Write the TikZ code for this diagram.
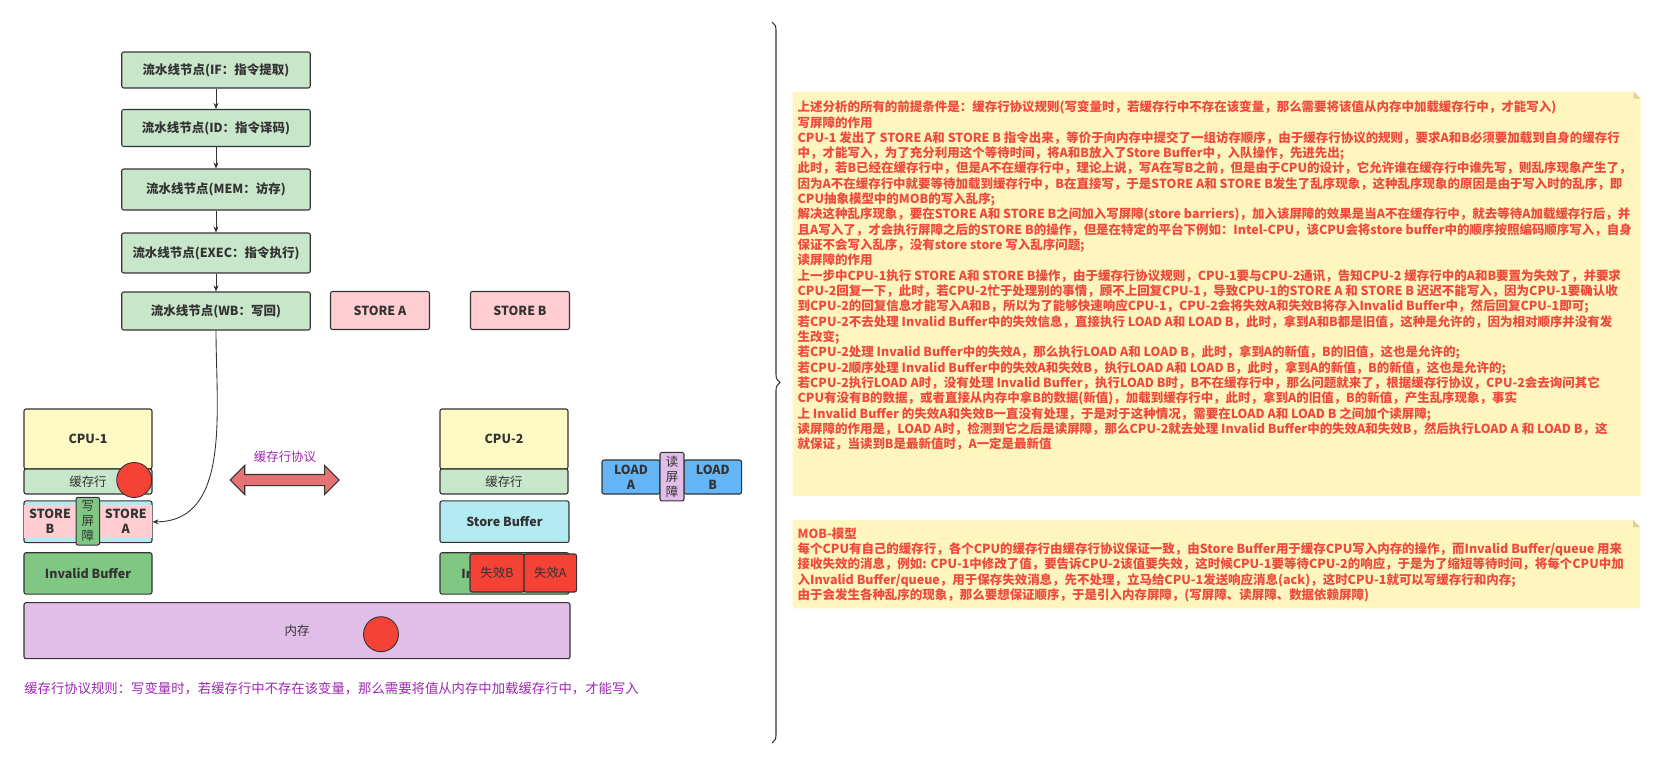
\documentclass[tikz,border=0pt]{standalone}
\usepackage{fontspec}
\setmainfont{Noto Sans CJK SC}
\usetikzlibrary{arrows.meta,shapes.arrows,decorations.pathreplacing}
\definecolor{ink}{HTML}{333333}
\definecolor{stagegreen}{HTML}{C8E6C9}
\definecolor{storepink}{HTML}{FFCDD2}
\definecolor{cpuyellow}{HTML}{FFF9C4}
\definecolor{bufcyan}{HTML}{B2EBF2}
\definecolor{invgreen}{HTML}{81C784}
\definecolor{mempurple}{HTML}{E1BEE7}
\definecolor{ballred}{HTML}{F44336}
\definecolor{syncred}{HTML}{E57373}
\definecolor{loadblue}{HTML}{64B5F6}
\definecolor{protopurple}{HTML}{9C27B0}
\definecolor{notebg}{HTML}{FFF5BF}
\definecolor{notefold}{HTML}{E2D29A}
\definecolor{notered}{HTML}{F04A3C}
\begin{document}
\begin{tikzpicture}[x=0.2mm,y=-0.2mm,
    cell/.style={rectangle,draw=ink,line width=0.6pt,rounded corners=0.4mm,text=ink,inner sep=0pt,font=\fontsize{7.1}{8.7}\selectfont},
    boldcell/.style={cell,font=\fontsize{7.1}{8.7}\selectfont\bfseries},
    stage/.style={boldcell,fill=stagegreen,minimum width=37.7mm},
    storeop/.style={boldcell,fill=storepink,minimum width=19.8mm,minimum height=7.6mm},
    cpucol/.style={cell,minimum width=25.6mm},
    barrier/.style={cell,align=center,minimum width=4.7mm},
    redball/.style={circle,draw=ink,line width=0.5pt,fill=ballred,minimum size=7mm,inner sep=0pt},
    flow/.style={draw=ink,line width=0.5pt,-{Stealth[length=1.2mm,width=1mm]}},
    notetext/.style={anchor=north west,inner sep=0pt,align=left,text=notered,font=\fontsize{7.1}{8.72}\selectfont\bfseries}]
    \useasboundingbox (0,0) rectangle (1653,757);
    \node (pipe0) at (216,70) [stage,minimum height=7.2mm] {流水线节点(IF：指令提取)};
    \node (pipe1) at (216,128) [stage,minimum height=7.4mm] {流水线节点(ID：指令译码)};
    \node (pipe2) at (216,189.5) [stage,minimum height=8.2mm] {流水线节点(MEM：访存)};
    \node (pipe3) at (216,253) [stage,minimum height=8mm] {流水线节点(EXEC：指令执行)};
    \node (pipe4) at (216,311) [stage,minimum height=7.6mm] {流水线节点(WB：写回)};
    \node (storea) at (380,310.5) [storeop] {STORE A};
    \node (storeb) at (520,310.5) [storeop] {STORE B};
    \node (cpu1) at (88,439) [cpucol,fill=cpuyellow,minimum height=12mm,font=\fontsize{7.1}{8.7}\selectfont\bfseries] {CPU-1};
    \node (cache1) at (88,481.5) [cpucol,fill=stagegreen,minimum height=5mm] {缓存行};
    \node (sbuf1) at (88,521.8) [cpucol,fill=bufcyan,minimum height=8.34mm] {};
    \node (stb) at (50,521.5) [storeop,draw=none,rounded corners=0pt,align=center,minimum width=10.2mm,minimum height=6.6mm] {STORE\\B};
    \node (sta) at (125.8,521.5) [storeop,draw=none,rounded corners=0pt,align=center,minimum width=10.3mm,minimum height=6.6mm] {STORE\\A};
    \node (wbar) at (87.8,521.2) [barrier,fill=invgreen,minimum height=9.54mm] {写\\屏\\障};
    \node (inval1) at (88,573.4) [cpucol,fill=invgreen,minimum height=8.26mm,font=\fontsize{7.1}{8.7}\selectfont\bfseries] {Invalid Buffer};
    \node (ball1) at (134.2,480) [redball] {};
    \node (proto) at (285,456.7) [text=protopurple,inner sep=0pt,font=\fontsize{7.1}{8.7}\selectfont] {缓存行协议};
    \node (sync) at (284.7,480) [double arrow,draw=ink,fill=syncred,line width=0.6pt,minimum height=21.8mm,minimum width=5.6mm,double arrow head extend=1.8mm,inner sep=0pt,inner ysep=1mm] {};
    \node (cpu2) at (504,439) [cpucol,fill=cpuyellow,minimum height=12mm,font=\fontsize{7.1}{8.7}\selectfont\bfseries] {CPU-2};
    \node (cache2) at (504,481.5) [cpucol,fill=stagegreen,minimum height=5mm] {缓存行};
    \node (sbuf2) at (504.5,521.7) [cpucol,fill=bufcyan,minimum width=25.8mm,minimum height=8.3mm,font=\fontsize{7.1}{8.7}\selectfont\bfseries] {Store Buffer};
    \node (inval2) at (504.5,573.4) [cpucol,fill=invgreen,minimum width=25.8mm,minimum height=8.26mm,font=\fontsize{7.1}{8.7}\selectfont\bfseries] {Invalid Buffer};
    \node (invb) at (497,573) [cell,fill=ballred,minimum width=10.8mm,minimum height=7.6mm] {失效B};
    \node (inva) at (550.3,573) [cell,fill=ballred,minimum width=10.5mm,minimum height=7.6mm] {失效A};
    \node (mem) at (297,630.7) [cell,fill=mempurple,minimum width=109.2mm,minimum height=11.2mm] {内存};
    \node (ball2) at (381,634.2) [redball] {};
    \node (loada) at (631,477) [boldcell,fill=loadblue,align=center,minimum width=11.6mm,minimum height=6.8mm] {LOAD\\A};
    \node (loadb) at (712.8,477) [boldcell,fill=loadblue,align=center,minimum width=11.5mm,minimum height=6.8mm] {LOAD\\B};
    \node (rbar) at (672,476.7) [barrier,fill=mempurple,minimum width=4.8mm,minimum height=9.7mm] {读\\屏\\障};
    \node (rule) at (24,688.3) [anchor=west,inner sep=0pt,text=protopurple,font=\fontsize{7.6}{9}\selectfont] {缓存行协议规则：写变量时，若缓存行中不存在该变量，那么需要将值从内存中加载缓存行中，才能写入};
    \draw [flow] (pipe0) -- (pipe1);
    \draw [flow] (pipe1) -- (pipe2);
    \draw [flow] (pipe2) -- (pipe3);
    \draw [flow] (pipe3) -- (pipe4);
    \draw [flow] (pipe4.south) to [out=-90,in=0] (sbuf1.east);
    \coordinate (bracetop) at (772,22);
    \coordinate (bracebot) at (772,743);
    \draw [ink,line width=0.6pt,decorate,decoration={brace,amplitude=1.6mm}] (bracetop) -- (bracebot);
    \fill [notebg] (792.7,91.7) -- (1633.7,91.7) -- (1640.7,98.7) -- (1640.7,496) -- (792.7,496) -- cycle;
    \fill [notefold] (1633.7,91.7) -- (1633.7,98.7) -- (1640.7,98.7) -- cycle;
    \fill [notebg] (792.7,520) -- (1633,520) -- (1640,527) -- (1640,608.3) -- (792.7,608.3) -- cycle;
    \fill [notefold] (1633,520) -- (1633,527) -- (1640,527) -- cycle;
    \node (notes) at (797.3,100.5) [notetext] {上述分析的所有的前提条件是：缓存行协议规则(写变量时，若缓存行中不存在该变量，那么需要将该值从内存中加载缓存行中，才能写入)\\
写屏障的作用\\
CPU-1 发出了 STORE A和 STORE B 指令出来，等价于向内存中提交了一组访存顺序，由于缓存行协议的规则，要求A和B必须要加载到自身的缓存行\\
中，才能写入，为了充分利用这个等待时间，将A和B放入了Store Buffer中，入队操作，先进先出;\\
此时，若B已经在缓存行中，但是A不在缓存行中，理论上说，写A在写B之前，但是由于CPU的设计，它允许谁在缓存行中谁先写，则乱序现象产生了，\\
因为A不在缓存行中就要等待加载到缓存行中，B在直接写，于是STORE A和 STORE B发生了乱序现象，这种乱序现象的原因是由于写入时的乱序，即\\
CPU抽象模型中的MOB的写入乱序;\\
解决这种乱序现象，要在STORE A和 STORE B之间加入写屏障(store barriers)，加入该屏障的效果是当A不在缓存行中，就去等待A加载缓存行后，并\\
且A写入了，才会执行屏障之后的STORE B的操作，但是在特定的平台下例如：Intel-CPU，该CPU会将store buffer中的顺序按照编码顺序写入，自身\\
保证不会写入乱序，没有store store 写入乱序问题;\\
读屏障的作用\\
上一步中CPU-1执行 STORE A和 STORE B操作，由于缓存行协议规则，CPU-1要与CPU-2通讯，告知CPU-2 缓存行中的A和B要置为失效了，并要求\\
CPU-2回复一下，此时，若CPU-2忙于处理别的事情，顾不上回复CPU-1，导致CPU-1的STORE A 和 STORE B 迟迟不能写入，因为CPU-1要确认收\\
到CPU-2的回复信息才能写入A和B，所以为了能够快速响应CPU-1，CPU-2会将失效A和失效B将存入Invalid Buffer中，然后回复CPU-1即可;\\
若CPU-2不去处理 Invalid Buffer中的失效信息，直接执行 LOAD A和 LOAD B，此时，拿到A和B都是旧值，这种是允许的，因为相对顺序并没有发\\
生改变;\\
若CPU-2处理 Invalid Buffer中的失效A，那么执行LOAD A和 LOAD B，此时，拿到A的新值，B的旧值，这也是允许的;\\
若CPU-2顺序处理 Invalid Buffer中的失效A和失效B，执行LOAD A和 LOAD B，此时，拿到A的新值，B的新值，这也是允许的;\\
若CPU-2执行LOAD A时，没有处理 Invalid Buffer，执行LOAD B时，B不在缓存行中，那么问题就来了，根据缓存行协议，CPU-2会去询问其它\\
CPU有没有B的数据，或者直接从内存中拿B的数据(新值)，加载到缓存行中，此时，拿到A的旧值，B的新值，产生乱序现象，事实\\
上 Invalid Buffer 的失效A和失效B一直没有处理，于是对于这种情况，需要在LOAD A和 LOAD B 之间加个读屏障;\\
读屏障的作用是，LOAD A时，检测到它之后是读屏障，那么CPU-2就去处理 Invalid Buffer中的失效A和失效B，然后执行LOAD A 和 LOAD B，这\\
就保证，当读到B是最新值时，A一定是最新值};
    \node (mobnote) at (797.3,527.2) [notetext] {MOB-模型\\
每个CPU有自己的缓存行，各个CPU的缓存行由缓存行协议保证一致，由Store Buffer用于缓存CPU写入内存的操作，而Invalid Buffer/queue 用来\\
接收失效的消息，例如: CPU-1中修改了值，要告诉CPU-2该值要失效，这时候CPU-1要等待CPU-2的响应，于是为了缩短等待时间，将每个CPU中加\\
入Invalid Buffer/queue，用于保存失效消息，先不处理，立马给CPU-1发送响应消息(ack)，这时CPU-1就可以写缓存行和内存;\\
由于会发生各种乱序的现象，那么要想保证顺序，于是引入内存屏障，(写屏障、读屏障、数据依赖屏障)};
  \end{tikzpicture}
\end{document}
